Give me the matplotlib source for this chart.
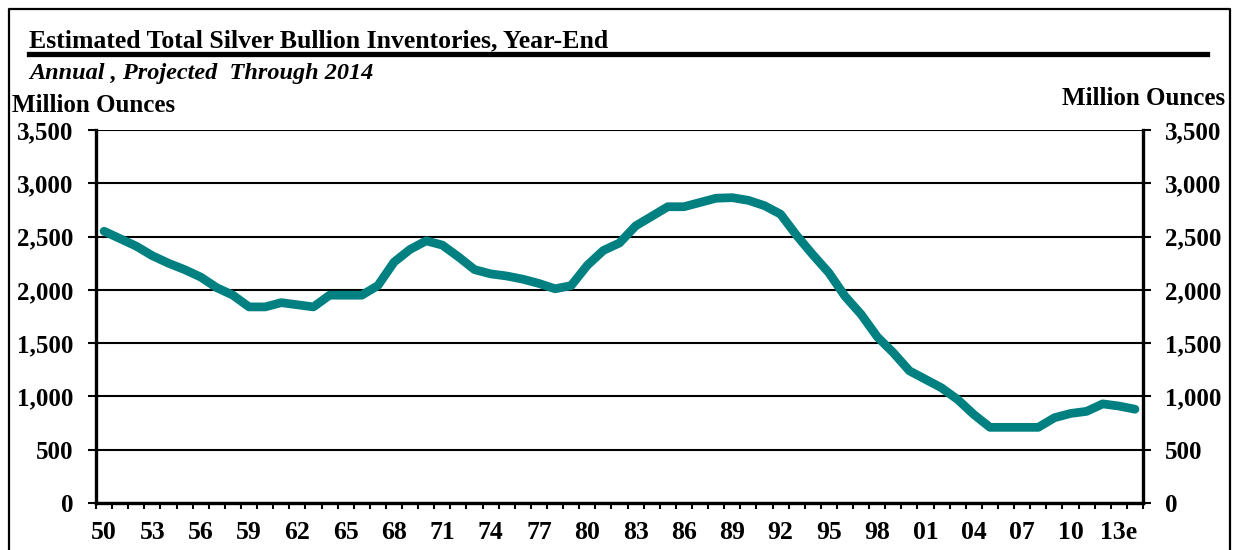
import matplotlib
matplotlib.use("Agg")
import matplotlib.pyplot as plt
from matplotlib.lines import Line2D
from matplotlib.ticker import FuncFormatter, MultipleLocator

# year-end inventories, million ounces (2014 projected)
years = list(range(1950, 2015))
inventories = [2550, 2480, 2410, 2320, 2250, 2190, 2120, 2020, 1950, 1840,
               1840, 1880, 1860, 1840, 1950, 1950, 1950, 2040, 2260, 2380,
               2460, 2420, 2310, 2190, 2150, 2130, 2100, 2060, 2010, 2040,
               2230, 2370, 2440, 2600, 2690, 2780, 2780, 2820, 2860, 2865,
               2840, 2790, 2710, 2510, 2330, 2160, 1940, 1770, 1560, 1410,
               1240, 1160, 1080, 970, 830, 710, 710, 710, 710, 800,
               840, 860, 930, 910, 880]
tick_years = years[::3]
tick_labels = ['50', '53', '56', '59', '62', '65', '68', '71', '74', '77', '80',
               '83', '86', '89', '92', '95', '98', '01', '04', '07', '10', '13e']

plt.rcParams['font.family'] = 'Liberation Serif'
plt.rcParams['font.weight'] = 'bold'

W, H = 1233, 550
fig = plt.figure(figsize=(W / 100, H / 100), dpi=100)
ax = fig.add_axes([96 / W, 1 - 503 / H, (1143 - 96) / W, (503 - 130) / H])

pos = list(range(len(years)))
ax.plot(pos, inventories, color='#008080', lw=6.3, solid_capstyle='round',
        solid_joinstyle='round', zorder=3)

ax.set_xlim(-0.5, len(years) - 0.5)
ax.set_ylim(0, 3500)
ax.yaxis.set_major_locator(MultipleLocator(500))
ax.yaxis.set_major_formatter(FuncFormatter(lambda v, p: '{:,.0f}'.format(v)))
ax.grid(axis='y', color='black', lw=1.5, zorder=1)

ax.set_xticks([years.index(y) for y in tick_years])
ax.set_xticklabels(tick_labels)
ax.set_xticks([p - 0.5 for p in pos] + [len(years) - 0.5], minor=True)
ax.tick_params(axis='x', which='major', length=0, pad=13, labelsize=18.5)
ax.tick_params(axis='x', which='minor', length=4.5, width=1.5, direction='out')
ax.tick_params(axis='y', which='major', length=6, width=1.5, direction='out',
               left=True, right=True, labelleft=True, labelright=True,
               labelsize=18, pad=10)

for side in ['left', 'right', 'bottom']:
    ax.spines[side].set_linewidth(2.4)
ax.spines['top'].set_visible(False)

# headings
fig.text(29 / W, 1 - 47 / H, 'Estimated Total Silver Bullion Inventories, Year-End',
         fontsize=18.5, fontweight='bold', ha='left', va='baseline')
fig.add_artist(Line2D([29 / W, 1207 / W], [1 - 53.5 / H, 1 - 53.5 / H],
                      color='black', lw=3.8))
fig.text(29 / W, 1 - 79 / H, 'Annual , Projected  Through 2014',
         fontsize=17.5, fontweight='bold', style='italic', ha='left', va='baseline')
fig.text(12 / W, 1 - 112 / H, 'Million Ounces', fontsize=18,
         fontweight='bold', ha='left', va='baseline')
fig.text(1225 / W, 1 - 105 / H, 'Million Ounces', fontsize=18,
         fontweight='bold', ha='right', va='baseline')

# outer frame
fig.add_artist(Line2D([9 / W, 9 / W, 1230 / W, 1230 / W], [0, 1 - 9 / H, 1 - 9 / H, 0],
                      color='black', lw=1.6))

plt.savefig('out.png', dpi=100)
